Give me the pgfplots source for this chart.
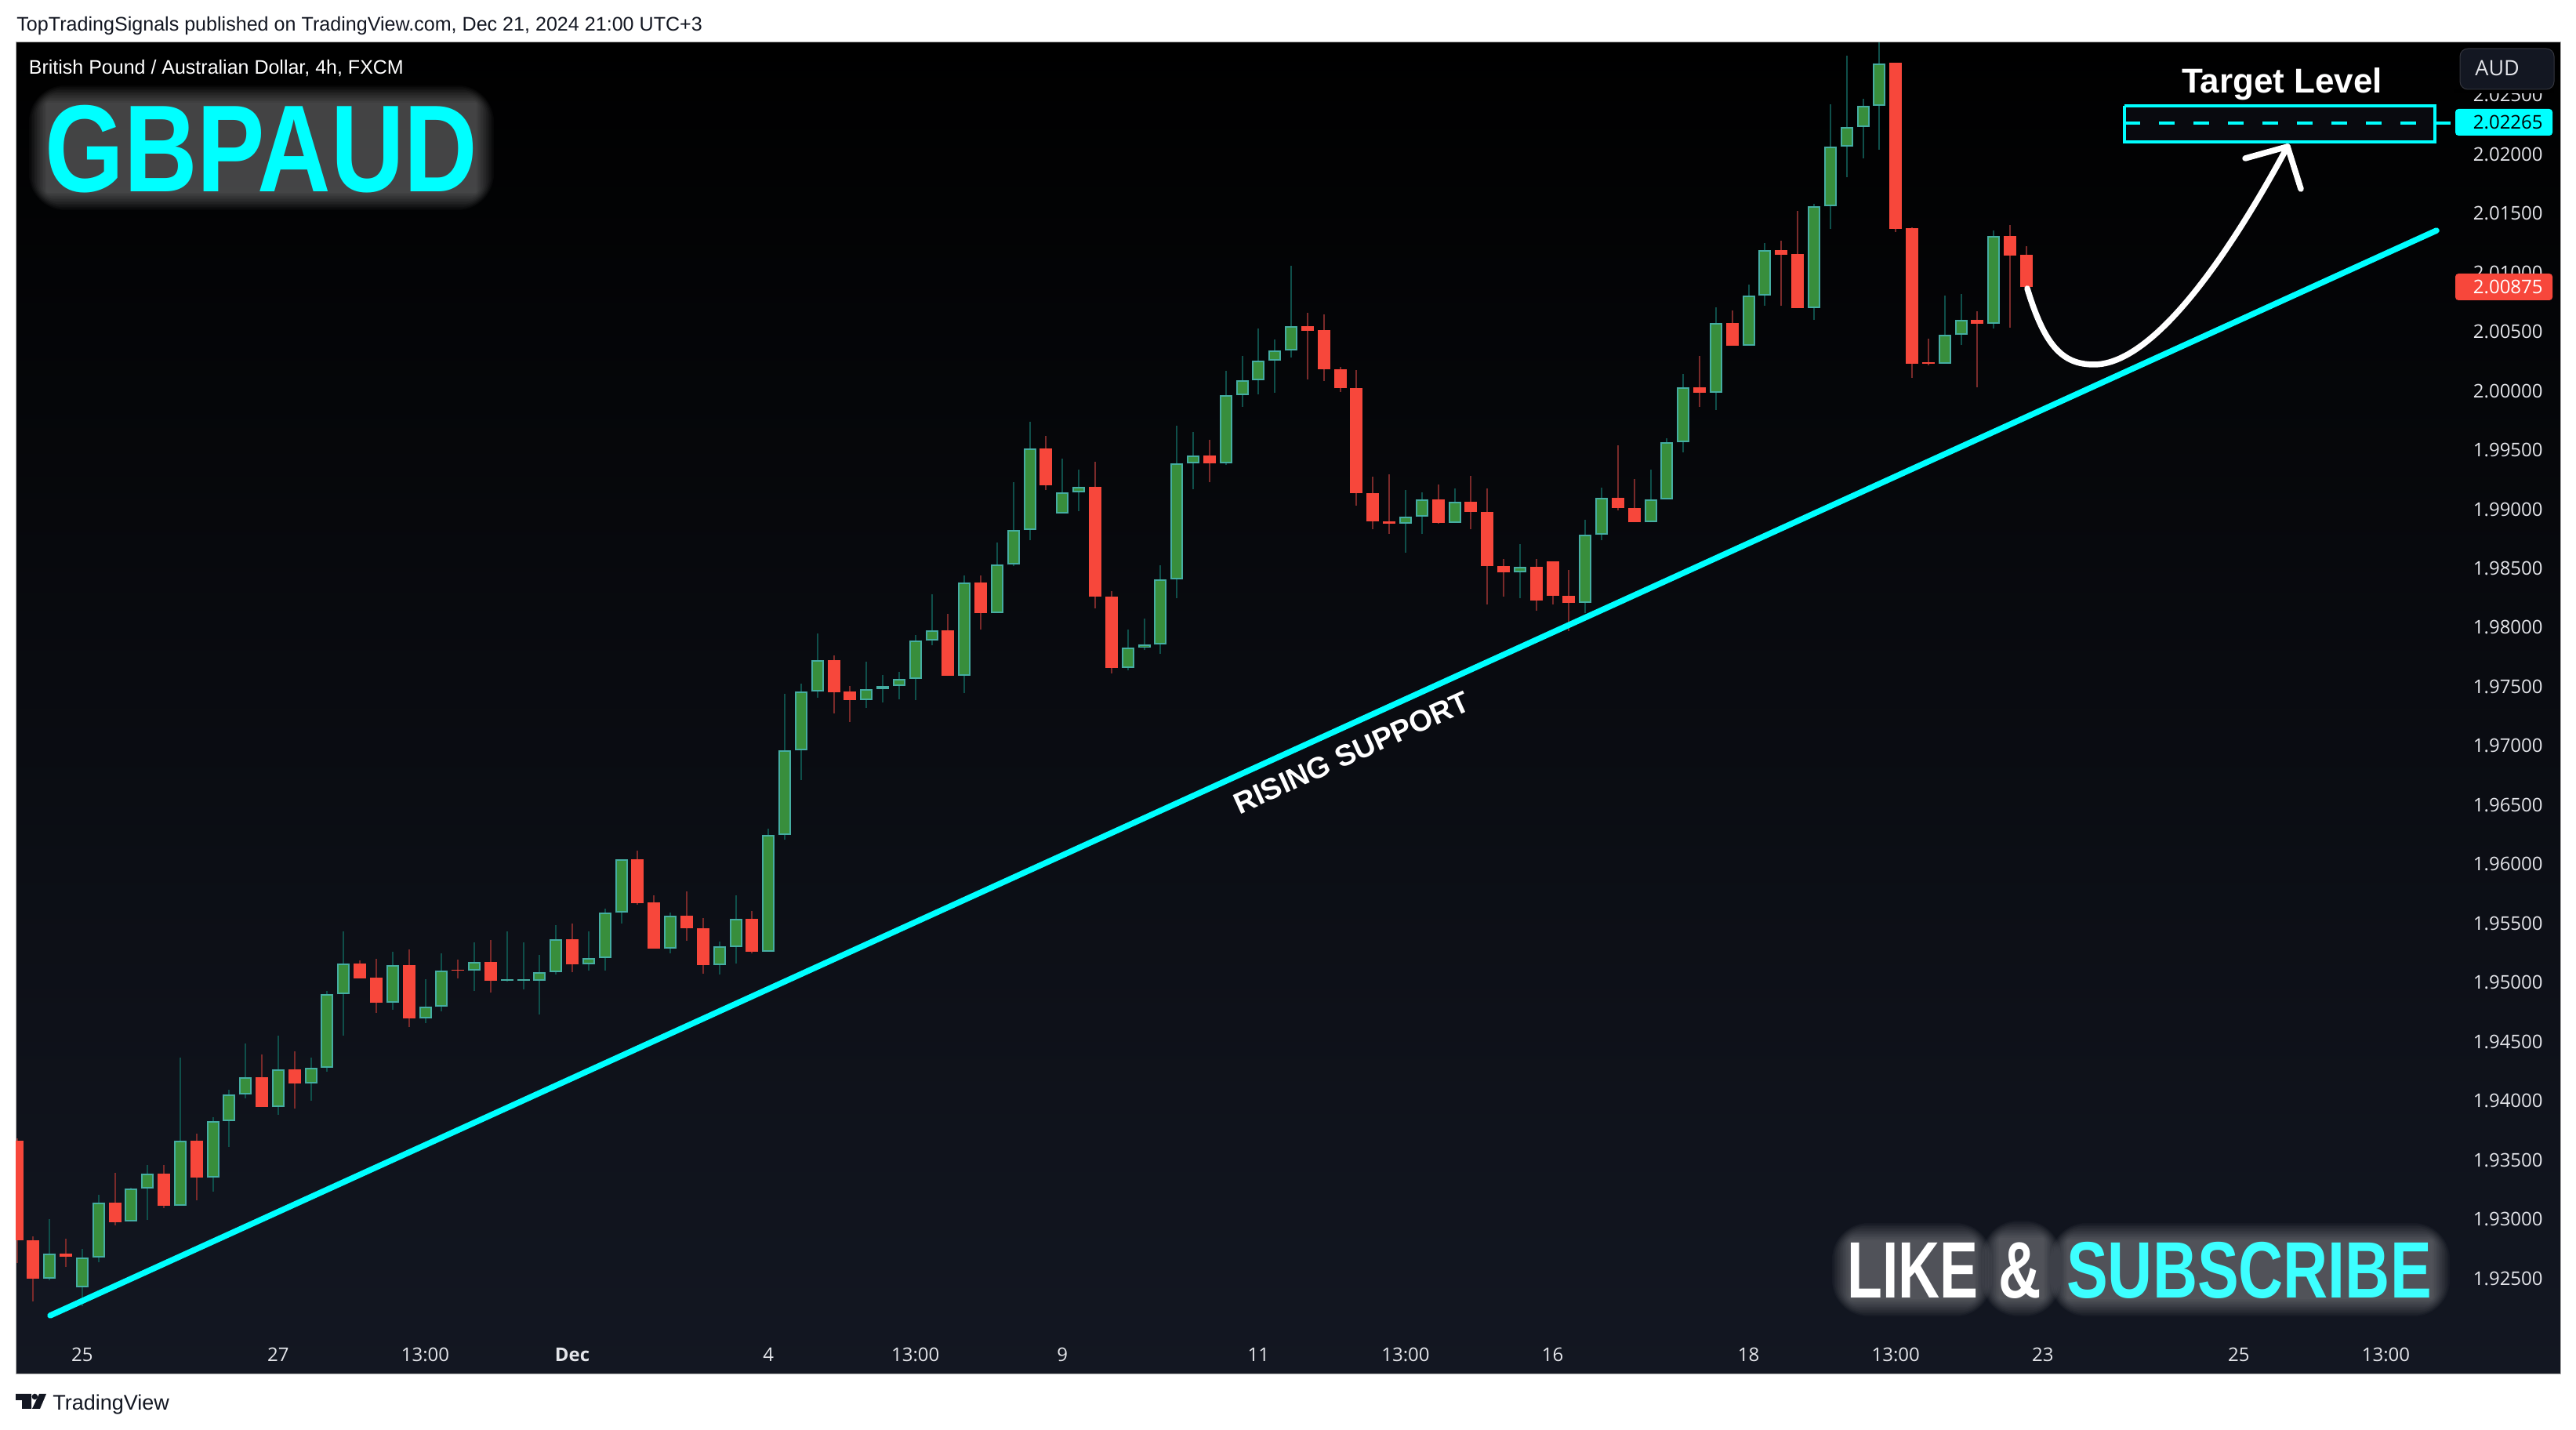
\documentclass[border=0pt]{standalone}
\usepackage{fontspec}
\usepackage{graphicx}
\usepackage{pgfplots}
\usepackage{pgfplotstable}
\pgfplotsset{compat=1.18}
\setmainfont{Liberation Sans}
\newfontfamily\tvfont{Open Sans}
\newcommand{\px}[1]{\fontsize{\fpeval{#1/2}pt}{\fpeval{#1/2+1}pt}\selectfont}
\definecolor{tvbg}{HTML}{131722}
\definecolor{gfill}{HTML}{388E3C}
\definecolor{gborder}{HTML}{45ADA2}
\definecolor{gwick}{HTML}{0F4F4A}
\definecolor{rfill}{HTML}{F7473B}
\definecolor{rwick}{HTML}{7A2A2A}
\definecolor{tick}{HTML}{E4E5EA}
\definecolor{neon}{HTML}{00FFFF}
\pgfplotstableread{
x low high bot top
2 1.92487 1.92999 1.92500 1.92708
4 1.92264 1.92751 1.92424 1.92675
5 1.92639 1.93207 1.92675 1.93139
7 1.92979 1.93266 1.92979 1.93258
8 1.92992 1.93456 1.93258 1.93385
10 1.93111 1.94363 1.93111 1.93661
12 1.93235 1.93861 1.93349 1.93828
13 1.93613 1.94094 1.93828 1.94051
14 1.94023 1.94485 1.94051 1.94198
16 1.93879 1.94551 1.93945 1.94264
18 1.93998 1.94363 1.94150 1.94277
19 1.94247 1.94926 1.94277 1.94901
20 1.94553 1.95433 1.94901 1.95159
23 1.94771 1.95261 1.94827 1.95146
25 1.94655 1.95027 1.94700 1.94794
26 1.94754 1.95248 1.94794 1.95098
28 1.94926 1.95337 1.95098 1.95172
30 1.95005 1.95433 1.95017 1.95027
31 1.94939 1.95337 1.95017 1.95027
32 1.94733 1.95235 1.95017 1.95086
33 1.95070 1.95486 1.95086 1.95365
35 1.95103 1.95433 1.95152 1.95205
36 1.95103 1.95626 1.95205 1.95590
37 1.95500 1.96040 1.95589 1.96040
40 1.95249 1.95591 1.95289 1.95563
43 1.95071 1.95343 1.95150 1.95305
44 1.95158 1.95738 1.95302 1.95535
46 1.95262 1.96301 1.95262 1.96250
47 1.96205 1.97439 1.96250 1.96965
48 1.96712 1.97523 1.96965 1.97457
49 1.97409 1.97949 1.97457 1.97723
52 1.97320 1.97710 1.97388 1.97482
53 1.97368 1.97599 1.97482 1.97503
54 1.97394 1.97624 1.97503 1.97568
55 1.97386 1.97936 1.97568 1.97888
56 1.97850 1.98281 1.97888 1.97974
58 1.97449 1.98440 1.97589 1.98379
60 1.98119 1.98720 1.98119 1.98530
61 1.98517 1.99230 1.98530 1.98822
62 1.98738 1.99739 1.98822 1.99511
64 1.98966 1.99427 1.98966 1.99141
65 1.98984 1.99336 1.99141 1.99187
68 1.97640 1.97982 1.97660 1.97828
69 1.97808 1.98076 1.97828 1.97856
70 1.97780 1.98527 1.97856 1.98406
71 1.98249 1.99706 1.98406 1.99387
72 1.99166 1.99653 1.99387 1.99453
74 1.99377 2.00170 1.99389 1.99967
75 1.99866 2.00297 1.99967 2.00089
76 1.99972 2.00528 2.00089 2.00254
77 1.99985 2.00434 2.00254 2.00340
78 2.00284 2.01057 2.00340 2.00545
85 1.98629 1.99164 1.98880 1.98936
86 1.98789 1.99144 1.98936 1.99080
88 1.98887 1.99176 1.98887 1.99060
92 1.98249 1.98705 1.98464 1.98512
96 1.98122 1.98910 1.98206 1.98784
97 1.98740 1.99184 1.98784 1.99095
100 1.98888 1.99334 1.98888 1.99080
101 1.99080 1.99600 1.99080 1.99564
102 1.99481 2.00142 1.99564 2.00028
104 1.99838 2.00705 1.99985 2.00571
106 2.00383 2.00898 2.00383 2.00804
107 2.00720 2.01250 2.00804 2.01187
110 2.00603 2.01581 2.00697 2.01559
111 2.01371 2.02420 2.01559 2.02066
112 2.01808 2.02833 2.02066 2.02232
113 2.01967 2.02468 2.02232 2.02411
114 2.02040 2.02943 2.02411 2.02769
118 2.00232 2.00806 2.00232 2.00472
119 2.00391 2.00819 2.00472 2.00598
121 2.00530 2.01356 2.00569 2.01307
}\greentable
\pgfplotstableread{
x low high bot top
0 1.92627 1.93684 1.92819 1.93664
1 1.92302 1.92852 1.92500 1.92819
3 1.92594 1.92835 1.92680 1.92710
6 1.92949 1.93392 1.92977 1.93139
9 1.93096 1.93456 1.93111 1.93385
11 1.93157 1.93722 1.93349 1.93661
15 1.93945 1.94394 1.93945 1.94198
17 1.93937 1.94419 1.94150 1.94264
21 1.95037 1.95187 1.95037 1.95159
22 1.94746 1.95202 1.94827 1.95040
24 1.94622 1.95281 1.94700 1.95146
27 1.95037 1.95195 1.95098 1.95108
29 1.94913 1.95359 1.95012 1.95172
34 1.95086 1.95499 1.95152 1.95365
38 1.95655 1.96116 1.95672 1.96040
39 1.95289 1.95738 1.95289 1.95677
41 1.95355 1.95771 1.95462 1.95563
42 1.95077 1.95545 1.95150 1.95462
45 1.95249 1.95604 1.95262 1.95535
50 1.97277 1.97764 1.97454 1.97723
51 1.97201 1.97505 1.97388 1.97457
57 1.97589 1.98116 1.97589 1.97974
59 1.97980 1.98439 1.98119 1.98380
63 1.99159 1.99618 1.99199 1.99511
66 1.98162 1.99402 1.98259 1.99187
67 1.97615 1.98309 1.97660 1.98259
73 1.99230 1.99587 1.99389 1.99453
79 2.00097 2.00659 2.00510 2.00545
80 2.00084 2.00647 2.00185 2.00515
81 1.99993 2.00201 2.00021 2.00185
82 1.99029 2.00178 1.99138 2.00021
83 1.98834 1.99275 1.98900 1.99138
84 1.98794 1.99296 1.98880 1.98900
87 1.98875 1.99209 1.98887 1.99080
89 1.98834 1.99283 1.98979 1.99060
90 1.98193 1.99176 1.98517 1.98979
91 1.98264 1.98581 1.98464 1.98517
93 1.98145 1.98581 1.98231 1.98512
94 1.98198 1.98560 1.98271 1.98560
95 1.97972 1.98487 1.98206 1.98271
98 1.98992 1.99539 1.99012 1.99093
99 1.98888 1.99253 1.98888 1.99012
103 1.99864 2.00295 1.99985 2.00028
105 2.00383 2.00680 2.00383 2.00571
108 2.00720 2.01268 2.01151 2.01187
109 2.00697 2.01521 2.00697 2.01155
115 2.01344 2.02773 2.01371 2.02773
116 2.00112 2.01382 2.00232 2.01375
117 2.00218 2.00441 2.00232 2.00243
120 2.00033 2.00673 2.00569 2.00600
122 2.00536 2.01402 2.01146 2.01307
123 2.00875 2.01223 2.00875 2.01148
}\redtable
\newcommand{\glowbox}[4]{%
  \foreach \r in {1,3,...,23}{%
    \fill[white,opacity=.028,rounded corners=\r*1pt] (#1-\r,#2-\r) rectangle (#3+\r,#4+\r);}}
\begin{document}
\begin{tikzpicture}
\useasboundingbox (-10pt,-35.5pt) rectangle (1633pt,876.5pt);
\fill[white] (-10pt,-35.5pt) rectangle (1633pt,876.5pt);
\begin{axis}[
  at={(0,0)},anchor=south west,
  scale only axis,width=1623pt,height=849.5pt,
  xmin=-0.072,xmax=155.68,ymin=1.91689,ymax=2.029454,
  axis background/.style={top color=black,bottom color=tvbg},
  axis line style={draw=gray!60,line width=0.5pt},
  major tick length=0pt,
  xtick={4,16,25,34,46,55,64,76,85,94,106,115,124,136,145},
  xticklabels={25,27,13:00,\textbf{Dec},4,13:00,9,11,13:00,16,18,13:00,23,25,13:00},
  xticklabel pos=bottom,
  xticklabel style={font=\tvfont\px{24},text=tick,anchor=base,yshift=8pt},
  ytick={1.925,1.93,1.935,1.94,1.945,1.95,1.955,1.96,1.965,1.97,1.975,1.98,1.985,1.99,1.995,2,2.005,2.01,2.015,2.02,2.025},
  yticklabel pos=right,
  yticklabel style={font=\tvfont\px{24},text=tick,anchor=east,inner sep=0pt,xshift=-11pt,
    /pgf/number format/.cd,fixed,fixed zerofill,precision=5,1000 sep={},assume math mode=true},
  clip=true,
]
% wicks
\addplot[draw=none,mark=none,forget plot,error bars/.cd,y dir=plus,y explicit,error mark=none,
  error bar style={draw=gwick,solid,line width=1pt}]
  table[x=x,y=low,y error plus expr=\thisrow{high}-\thisrow{low}]{\greentable};
\addplot[draw=none,mark=none,forget plot,error bars/.cd,y dir=plus,y explicit,error mark=none,
  error bar style={draw=rwick,solid,line width=1pt}]
  table[x=x,y=low,y error plus expr=\thisrow{high}-\thisrow{low}]{\redtable};
% bodies
\addplot[draw=none,mark=none,forget plot,error bars/.cd,y dir=plus,y explicit,error mark=none,
  error bar style={draw=gborder,solid,line width=8pt}]
  table[x=x,y=bot,y error plus expr=\thisrow{top}-\thisrow{bot}]{\greentable};
\addplot[draw=none,mark=none,forget plot,error bars/.cd,y dir=plus,y explicit,error mark=none,
  error bar style={draw=gfill,solid,line width=6pt}]
  table[x=x,y expr=\thisrow{bot}+0.000133,y error plus expr={max(\thisrow{top}-\thisrow{bot}-0.000265,0)}]{\greentable};
\addplot[draw=none,mark=none,forget plot,error bars/.cd,y dir=plus,y explicit,error mark=none,
  error bar style={draw=rfill,solid,line width=8pt}]
  table[x=x,y=bot,y error plus expr=\thisrow{top}-\thisrow{bot}]{\redtable};
% rising support
\addplot[forget plot,color=neon,line width=3.75pt,line cap=round] coordinates {(2.04,1.92186) (148.1,2.01355)};
% target level
\addplot[forget plot,draw=neon,fill=tvbg!45!black,line width=2pt] coordinates {(129.01,2.02409) (148.01,2.02409) (148.01,2.02104) (129.01,2.02104) (129.01,2.02409)};
\addplot[forget plot,color=neon,line width=2pt,dash pattern=on 10pt off 12pt] coordinates {(129.01,2.02265) (149.02,2.02265)};
\end{axis}
\begin{scope}[x=0.5pt,y=-0.5pt,shift={(-10pt,876.5pt)}]
% header, footer
\node[anchor=base west,inner sep=0,text=tvbg,font=\px{25.1}] at (21,40) {TopTradingSignals published on TradingView.com, Dec 21, 2024 21:00 UTC+3};
\node[anchor=base west,inner sep=0,text=white,font=\px{25}] at (36.5,95) {British Pound / Australian Dollar, 4h, FXCM};
\fill[tvbg] (20,1778) -- (40,1778) -- (40,1797) -- (28,1797) -- (28,1786) -- (20,1786) -- cycle;
\fill[tvbg] (44.4,1781.5) circle (3.8);
\fill[tvbg] (50,1778) -- (59,1778) -- (51,1797) -- (41,1797) -- cycle;
\node[anchor=base west,inner sep=0,text=tvbg,font=\px{27}] at (67,1799) {TradingView};
% title
\glowbox{60}{132}{607}{245}
\node[anchor=base west,inner sep=0,text=neon,font=\bfseries\px{158},xscale=.82] at (57,245) {GBPAUD};
% like and subscribe
\glowbox{2360}{1583}{2518}{1656}
\glowbox{2551}{1580}{2606}{1656}
\glowbox{2638}{1583}{3102}{1656}
\node[anchor=base west,inner sep=0,font=\bfseries\px{102}] at (2356,1656) {%
  \textcolor{white}{\scalebox{.72}[1]{LIKE}\hspace{13pt}\scalebox{.74}[1]{\&}}\hspace{16pt}\textcolor[HTML]{3DFFFF}{\scalebox{.775}[1]{SUBSCRIBE}}};
% rising support text
\node[inner sep=0,text=white,font=\bfseries\px{38},rotate=24.4] at (1724,960) {RISING SUPPORT};
% target text
\node[anchor=base,inner sep=0,text=white,font=\bfseries\px{44}] at (2911,119) {Target Level};
% curve
\draw[white,line width=3.75pt,line cap=round] (2586,368) .. controls (2608,440) and (2630,465) .. (2671,465) .. controls (2740,465) and (2830,350) .. (2918,187);
\draw[white,line width=3.75pt,line cap=round,line join=round] (2864,202) -- (2918,187) -- (2935,241);
% badges
\fill[black] (3130,114) rectangle (3258,119);
\fill[tvbg,draw=tvbg!70!gray,line width=.5pt,rounded corners=5pt] (3138,62) rectangle (3258,114);
\node[anchor=base west,inner sep=0,text=tick,font=\tvfont\px{27}] at (3157,97) {AUD};
\fill[neon,rounded corners=2pt] (3132,139) rectangle (3256,173);
\node[anchor=east,inner sep=0,text=black,font=\tvfont\px{24}] at (3244,156) {2.02265};
\fill[rfill,rounded corners=2pt] (3132,349) rectangle (3256,383);
\node[anchor=east,inner sep=0,text=white,font=\tvfont\px{24}] at (3244,366) {2.00875};
\end{scope}
\end{tikzpicture}
\end{document}
